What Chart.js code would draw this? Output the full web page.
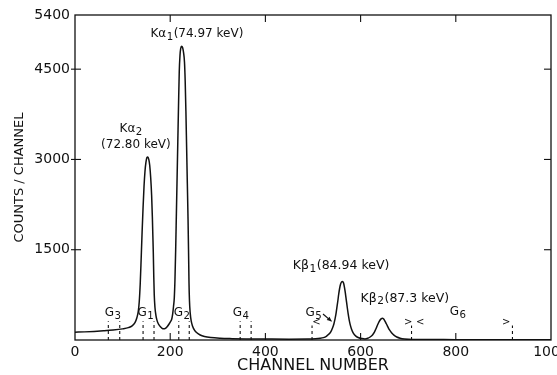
<!DOCTYPE html>
<html>
<head>
<meta charset="utf-8">
<script src="https://cdn.jsdelivr.net/npm/chart.js@4/dist/chart.umd.min.js"></script>
<style>
  html,body{margin:0;padding:0;background:#fff;}
  canvas{display:block;}
</style>
</head>
<body>
<canvas id="c" width="557" height="375"></canvas>
<script>
// ---- data ----
const channels = [0,20,40,60,80,100,112,120,126,130,133,135,137,139,141,143,145,147,149,151,153,155,157,159,161,162.5,163.5,164.5,165.5,166.5,168,170,172,175,179,183,186,190,194,198,201,203,205,207,208.6,210,211.5,213,214.5,216,217.5,219,220.5,222,224,226,228,230,231.5,233,234.5,236,237.5,238.5,239.5,240.5,242,244,247,251,256,263,272,285,305,330,360,400,450,490,505,515,522,528,533,537,541,544,546,548,550,552,554,556,558,560,562,564,566,568,570,572,574,576,578,581,585,590,596,603,609,615,620,625,629,633,637,640,643,646,648,650,653,656,660,665,670,676,683,692,710,750,800,900,1000];
const counts   = [130,135,142,152,165,185,205,235,290,370,480,640,930,1350,1800,2200,2550,2800,2950,3030,3040,3000,2900,2700,2400,2050,1750,1450,1050,750,540,410,335,270,225,195,185,195,225,270,310,340,420,560,700,1000,1500,2100,2700,3300,3900,4450,4720,4840,4880,4860,4780,4620,4300,3800,3200,2600,2000,1500,950,650,450,320,230,165,120,83,58,40,28,22,18,16,14,15,20,28,40,62,95,130,200,270,340,420,530,640,760,860,930,965,970,950,880,780,660,540,430,335,260,180,110,65,38,24,18,28,50,85,130,200,275,320,350,362,352,330,285,240,175,120,80,50,30,18,10,8,6,5,5];

const xTicks = [0,200,400,600,800,1000];
const yTicks = [1500,3000,4500,5400];
const yTickMarks = [1500,3000,4500];
const xTickMarks = [200,400,600,800];

// gate boundaries (channel numbers) and labels: segments [text, isSubscript]
const gateLines  = [70,94,143,166,218,240,347,370];
const gateLinesShort = [498,707,919];
const gateLabels = [
  {seg:[['G',0],['3',1]], ch:80,  c:449},
  {seg:[['G',0],['1',1]], ch:149, c:449},
  {seg:[['G',0],['2',1]], ch:225, c:449},
  {seg:[['G',0],['4',1]], ch:349, c:449},
  {seg:[['G',0],['5',1]], ch:502, c:449},
  {seg:[['G',0],['6',1]], ch:805, c:465}
];
const peakLabels = [
  {seg:[['Kα',0],['1',1],['(74.97 keV)',0]], ch:256, c:5084, s:12},
  {seg:[['Kα',0],['2',1]],                   ch:118, c:3500, s:12},
  {seg:[['(72.80 keV)',0]],                  ch:128, c:3240, s:12},
  {seg:[['Kβ',0],['1',1],['(84.94 keV)',0]], ch:559, c:1229, s:12.5},
  {seg:[['Kβ',0],['2',1],['(87.3 keV)',0]],  ch:693, c:690,  s:12.5}
];
const marks = [
  {t:'<', ch:507, c:300},
  {t:'>', ch:700, c:285},
  {t:'<', ch:725, c:290},
  {t:'>', ch:906, c:290}
];

const FONT = "'DejaVu Sans', sans-serif";
const INK = '#111';

function richText(ctx, seg, cx, cy, size){
  const sub = size*0.85;
  let w = 0;
  seg.forEach(([t,s])=>{ ctx.font = `${s?sub:size}px ${FONT}`; w += ctx.measureText(t).width + (s?1:0); });
  let xx = cx - w/2;
  ctx.textAlign='left'; ctx.textBaseline='middle';
  seg.forEach(([t,s])=>{
    ctx.font = `${s?sub:size}px ${FONT}`;
    ctx.fillText(t, xx + (s?0.5:0), cy + (s?3:0));
    xx += ctx.measureText(t).width + (s?1:0);
  });
}

const annot = {
  id:'annot',
  afterDatasetsDraw(chart){
    const {ctx, chartArea:a, scales:{x,y}} = chart;
    ctx.save();
    ctx.strokeStyle = INK; ctx.fillStyle = INK;
    const line=(x1,y1,x2,y2)=>{ctx.beginPath();ctx.moveTo(x1,y1);ctx.lineTo(x2,y2);ctx.stroke();};
    // frame
    ctx.lineWidth = 1.3;
    ctx.strokeRect(a.left, a.top, a.right-a.left, a.bottom-a.top);
    // inner tick marks
    ctx.lineWidth = 1.1;
    xTickMarks.forEach(v=>{const p=x.getPixelForValue(v); line(p,a.bottom,p,a.bottom-7); line(p,a.top,p,a.top+7);});
    yTickMarks.forEach(v=>{const p=y.getPixelForValue(v); line(a.left-4,p,a.left+6,p); line(a.right,p,a.right-7,p);});
    // gate dashed lines
    ctx.setLineDash([3,3]);
    gateLines.forEach(v=>{const p=x.getPixelForValue(v); line(p,a.bottom,p,y.getPixelForValue(310));});
    gateLinesShort.forEach(v=>{const p=x.getPixelForValue(v); line(p,a.bottom,p,y.getPixelForValue(240));});
    ctx.setLineDash([]);
    // labels
    gateLabels.forEach(g=>richText(ctx, g.seg, x.getPixelForValue(g.ch), y.getPixelForValue(g.c), 12));
    peakLabels.forEach(g=>richText(ctx, g.seg, x.getPixelForValue(g.ch), y.getPixelForValue(g.c), g.s));
    ctx.textAlign='center'; ctx.textBaseline='middle';
    ctx.font = `10px ${FONT}`;
    marks.forEach(g=>ctx.fillText(g.t, x.getPixelForValue(g.ch), y.getPixelForValue(g.c)));
    // G5 arrow
    const x1=x.getPixelForValue(521), y1=y.getPixelForValue(432), x2=x.getPixelForValue(539), y2=y.getPixelForValue(310);
    ctx.lineWidth=1.2; line(x1,y1,x2,y2);
    const ang=Math.atan2(y2-y1,x2-x1);
    ctx.beginPath(); ctx.moveTo(x2,y2);
    ctx.lineTo(x2-5*Math.cos(ang-0.45), y2-5*Math.sin(ang-0.45));
    ctx.lineTo(x2-5*Math.cos(ang+0.45), y2-5*Math.sin(ang+0.45));
    ctx.closePath(); ctx.fill();
    ctx.restore();
  }
};

new Chart(document.getElementById('c'), {
  type:'line',
  data:{
    datasets:[{
      data: channels.map((ch,i)=>({x:ch, y:counts[i]})),
      borderColor: INK,
      borderWidth: 1.5,
      pointRadius: 0,
      fill:false,
      cubicInterpolationMode:'monotone'
    }]
  },
  options:{
    responsive:false,
    animation:false,
    devicePixelRatio:1,
    layout:{padding:{top:15,right:6,left:0,bottom:0}},
    plugins:{legend:{display:false}, tooltip:{enabled:false}},
    scales:{
      x:{
        type:'linear', min:0, max:1000,
        afterBuildTicks(s){ s.ticks = xTicks.map(v=>({value:v})); },
        ticks:{color:INK, font:{size:14, family:FONT}, padding:4, maxRotation:0, autoSkip:false, callback:v=>String(v)},
        grid:{display:false, drawTicks:false},
        border:{display:false},
        title:{display:true, text:'CHANNEL NUMBER', color:INK, font:{size:16, family:FONT}, padding:{top:0,bottom:0}},
        afterFit(s){ s.height = 35; s.paddingRight = 0; s.paddingLeft = 0; }
      },
      y:{
        min:0, max:5400,
        afterBuildTicks(s){ s.ticks = yTicks.map(v=>({value:v})); },
        ticks:{color:INK, font:{size:14, family:FONT}, padding:5, autoSkip:false, callback:v=>String(v)},
        grid:{display:false, drawTicks:false},
        border:{display:false},
        title:{display:true, text:'COUNTS / CHANNEL', color:INK, font:{size:13, family:FONT}, padding:{top:12,bottom:0}},
        afterFit(s){ s.width = 75; s.paddingTop = 0; s.paddingBottom = 0; }
      }
    }
  },
  plugins:[annot]
});
</script>
</body>
</html>
